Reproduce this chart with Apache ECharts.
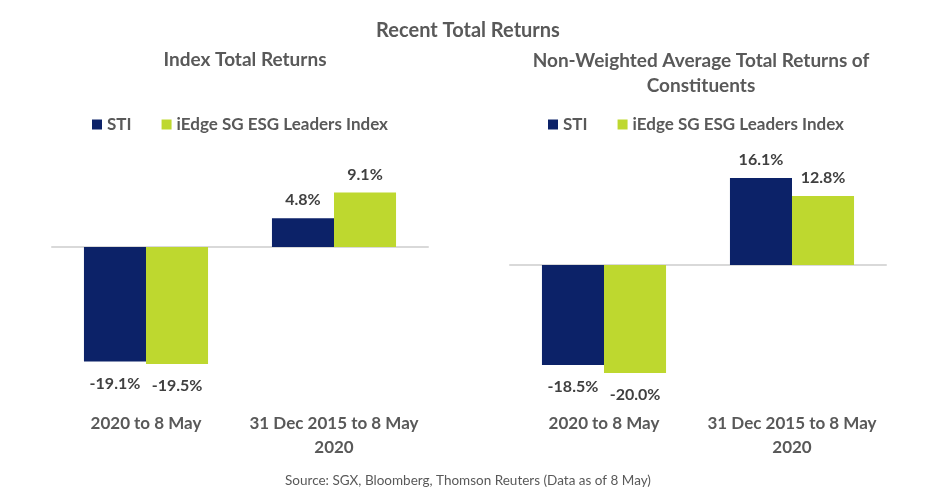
<!DOCTYPE html>
<html><head><meta charset="utf-8">
<script src="https://cdn.jsdelivr.net/npm/echarts@6/dist/echarts.min.js"></script>
<style>html,body{margin:0;padding:0;background:#fff}#c{width:936px;height:498px}</style>
</head><body><div id="c"></div>
<script>
const categories = ['2020 to 8 May', '31 Dec 2015 to 8 May\n2020'];
const seriesNames = ['STI', 'iEdge SG ESG Leaders Index'];
const leftSTI = [-19.1, 4.8];
const leftESG = [-19.5, 9.1];
const rightSTI = [-18.5, 16.1];
const rightESG = [-20.0, 12.8];

const NAVY = '#0c2268', GREEN = '#bed82f', TXT = '#595959', LBL = '#404040';
const chart = echarts.init(document.getElementById('c'));
const FONT = 'Lato';

function labelCfg() {
  return {
    show: true,
    position: 'top',
    distance: 10,
    fontFamily: FONT,
    fontWeight: 'bold',
    fontSize: 16,
    color: LBL,
    formatter: p => p.value.toFixed(1) + '%'
  };
}
function mkSeries(name, data, idx, color) {
  return {
    name: name, type: 'bar', xAxisIndex: idx * 2, yAxisIndex: idx,
    data: data.map(v => ({
      value: v,
      label: v < 0 ? { position: 'bottom', distance: 14 } : {}
    })),
    barGap: '0%', barCategoryGap: '34%',
    itemStyle: { color: color },
    label: labelCfg()
  };
}
function xCat(idx, margin) {
  return {
    type: 'category', gridIndex: idx, data: categories,
    axisLine: { show: false, onZero: false }, axisTick: { show: false },
    axisLabel: { interval: 0, margin: margin, fontFamily: FONT, fontWeight: 'bold', fontSize: 17, color: TXT, lineHeight: 24 }
  };
}
function xZero(idx) {
  return {
    type: 'category', gridIndex: idx, data: categories, position: 'bottom',
    axisLine: { show: true, onZero: true, lineStyle: { color: '#d9d9d9', width: 2 } },
    axisTick: { show: false }, axisLabel: { show: false }
  };
}
function legendCfg(left) {
  return {
    top: 111, left: left, itemWidth: 10, itemHeight: 10, itemGap: 30, icon: 'rect',
    data: seriesNames,
    textStyle: { fontFamily: FONT, fontWeight: 'bold', fontSize: 17, color: TXT }
  };
}

chart.setOption({
  animation: false,
  title: [
    { text: 'Recent Total Returns', left: 'center', top: 16,
      textStyle: { fontFamily: FONT, fontWeight: 'bold', fontSize: 20, color: TXT } },
    { text: 'Index Total Returns', left: 240, textAlign: 'center', top: 45,
      textStyle: { fontFamily: FONT, fontWeight: 'bold', fontSize: 19, color: TXT } },
    { text: 'Non-Weighted Average Total Returns of\nConstituents', left: 696, textAlign: 'center', top: 43,
      textStyle: { fontFamily: FONT, fontWeight: 'bold', fontSize: 19, color: TXT, lineHeight: 25 } },
    { text: 'Source: SGX, Bloomberg, Thomson Reuters (Data as of 8 May)', left: 'center', top: 469,
      textStyle: { fontFamily: FONT, fontWeight: 'normal', fontSize: 13.5, color: TXT } }
  ],
  legend: [legendCfg(87), legendCfg(543)],
  grid: [
    { left: 52, width: 376, top: 187, height: 180 },
    { left: 510, width: 376, top: 157, height: 216 }
  ],
  xAxis: [xCat(0, 45), xZero(0), xCat(1, 39), xZero(1)],
  yAxis: [
    { type: 'value', gridIndex: 0, min: -20, max: 10, show: false, splitLine: { show: false } },
    { type: 'value', gridIndex: 1, min: -20, max: 20, show: false, splitLine: { show: false } }
  ],
  series: [
    mkSeries(seriesNames[0], leftSTI, 0, NAVY),
    mkSeries(seriesNames[1], leftESG, 0, GREEN),
    mkSeries(seriesNames[0], rightSTI, 1, NAVY),
    mkSeries(seriesNames[1], rightESG, 1, GREEN)
  ]
});
</script></body></html>
